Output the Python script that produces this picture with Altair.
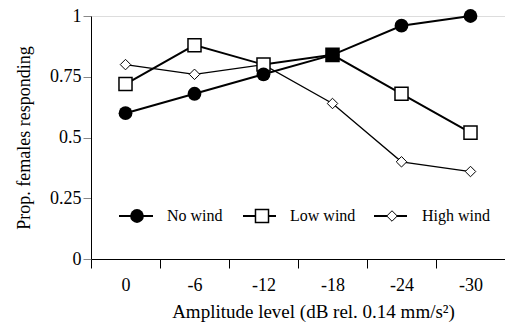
import altair as alt
import pandas as pd

# Amplitude levels (dB rel. 0.14 mm/s^2) and proportion of females responding
levels = ["0", "-6", "-12", "-18", "-24", "-30"]
no_wind = [0.60, 0.68, 0.76, 0.84, 0.96, 1.00]
low_wind = [0.72, 0.88, 0.80, 0.84, 0.68, 0.52]
high_wind = [0.80, 0.76, 0.80, 0.64, 0.40, 0.36]
series_names = ["No wind", "Low wind", "High wind"]
y_ticks = [0, 0.25, 0.5, 0.75, 1]

rows = []
for name, vals in zip(series_names, [no_wind, low_wind, high_wind]):
    for lev, v in zip(levels, vals):
        rows.append({"level": lev, "prop": v, "series": name})
df = pd.DataFrame(rows)

FONT = "Liberation Serif"
W, H = 414, 243

x_enc = alt.X(
    "level:N",
    sort=levels,
    scale=alt.Scale(domain=levels, paddingInner=0, paddingOuter=0),
    axis=alt.Axis(
        title="Amplitude level (dB rel. 0.14 mm/s²)",
        labelAngle=0,
        tickBand="extent",
        tickSize=9,
        tickColor="black",
        domainColor="black",
        labelFont=FONT,
        labelFontSize=18,
        labelColor="black",
        labelPadding=8,
        titleFont=FONT,
        titleFontSize=19,
        titleFontWeight="normal",
        titleColor="black",
        titlePadding=8,
        titleX=222,
        grid=False,
    ),
)
y_enc = alt.Y(
    "prop:Q",
    scale=alt.Scale(domain=[0, 1], nice=False),
    axis=alt.Axis(
        title="Prop. females responding",
        values=y_ticks,
        labelExpr="datum.value == 0 ? '0' : datum.value == 1 ? '1' : format(datum.value, '.3~g')",
        tickSize=8,
        tickColor="#888888",
        domainColor="black",
        labelFont=FONT,
        labelFontSize=18,
        labelColor="black",
        labelPadding=2,
        titleFont=FONT,
        titleFontSize=18,
        titleFontWeight="normal",
        titleColor="black",
        titlePadding=16,
        grid=False,
    ),
)

base = alt.Chart(df).encode(x=x_enc, y=y_enc)

def series(name, width):
    return base.transform_filter(alt.datum.series == name).mark_line(
        color="black", strokeWidth=width
    )

lines = series("High wind", 1.3) + series("Low wind", 2) + series("No wind", 2)

circles = base.transform_filter(alt.datum.series == "No wind").mark_point(
    shape="circle", filled=True, color="black", size=190, opacity=1
)
squares = base.transform_filter(alt.datum.series == "Low wind").mark_point(
    shape="square", size=170, strokeWidth=1.5, opacity=1, stroke="black"
).encode(
    fill=alt.condition("datum.level == '-18'", alt.value("black"), alt.value("white"))
)
diamonds = base.transform_filter(alt.datum.series == "High wind").mark_point(
    shape="diamond", size=110, strokeWidth=1, fill="white", stroke="black", opacity=1
)

# Hand-placed legend row inside the plot area
leg_y = 200
legend_specs = [
    ("No wind", 28, 62, 46, "circle", True, 190, 76),
    ("Low wind", 152, 185, 171, "square", False, 170, 199),
    ("High wind", 283, 316, 301, "diamond", False, 110, 331),
]
legend_layers = []
one = pd.DataFrame({"k": [0]})
for label, x1, x2, xm, shape, filled, size, xt in legend_specs:
    legend_layers.append(
        alt.Chart(one).mark_rule(color="black", strokeWidth=2).encode(
            x=alt.value(x1), x2=alt.value(x2), y=alt.value(leg_y)
        )
    )
    if filled:
        pt = alt.Chart(one).mark_point(
            shape=shape, filled=True, color="black", size=size, opacity=1
        )
    else:
        pt = alt.Chart(one).mark_point(
            shape=shape, fill="white", stroke="black", size=size, opacity=1,
            strokeWidth=1.5 if shape == "square" else 1,
        )
    legend_layers.append(pt.encode(x=alt.value(xm), y=alt.value(leg_y)))
    legend_layers.append(
        alt.Chart(one).mark_text(
            text=label, font=FONT, fontSize=16, align="left", baseline="middle", color="black"
        ).encode(x=alt.value(xt), y=alt.value(leg_y))
    )

chart = alt.layer(lines, diamonds, squares, circles, *legend_layers).properties(
    width=W,
    height=H,
    autosize=alt.AutoSizeParams(type="none"),
    padding={"left": 91, "top": 16, "right": 0, "bottom": 64},
).configure_view(stroke=None).configure(background="white")

chart.save("out.html", embed_options={"renderer": "svg", "actions": False})
